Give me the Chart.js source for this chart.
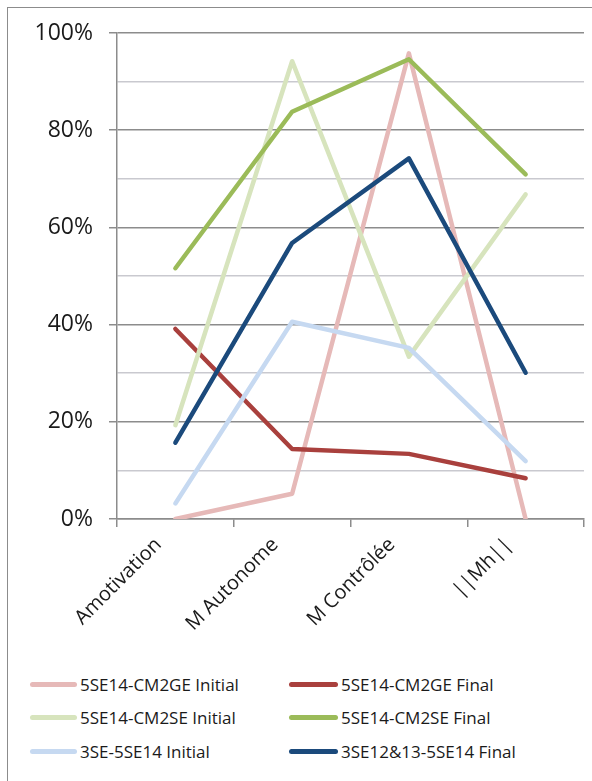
<!DOCTYPE html>
<html>
<head>
<meta charset="utf-8">
<script src="https://cdn.jsdelivr.net/npm/chart.js@4"></script>
<style>
  html, body { margin: 0; padding: 0; background: #fff; overflow: hidden; }
  body { width: 592px; height: 781px; position: relative; font-family: "Open Sans", sans-serif; }
  #frame { position: absolute; left: 7px; top: 7px; width: 640px; height: 820px;
           border-left: 1.5px solid #8c8c8c; border-top: 1.5px solid #8c8c8c; }
  #wrap { position: absolute; left: 0; top: 0; width: 592px; height: 660px; }
  #legend { position: absolute; left: 0; top: 667px; width: 592px; }
  .item { position: absolute; height: 34px; display: flex; align-items: center;
          font-size: 17px; color: #1a1a1a; white-space: nowrap; }
  .swatch { width: 47px; height: 5px; border-radius: 3px; margin-right: 3px; }
</style>
</head>
<body>
<div id="frame"></div>
<div id="wrap"><canvas id="chart"></canvas></div>
<div id="legend"></div>
<script>
// catégories et séries
const categories = ["Amotivation", "M Autonome", "M Contrôlée", "||Mh||"];
const seriesNames = [
  "5SE14-CM2GE Initial", "5SE14-CM2GE Final",
  "5SE14-CM2SE Initial", "5SE14-CM2SE Final",
  "3SE-5SE14 Initial", "3SE12&13-5SE14 Final",
];
const seriesColors = ["#E6B9B8", "#A9403D", "#D7E4BD", "#9BBB59", "#C6D9F1", "#1B4A7C"];

const cm2geInitial = [0, 5.2, 95.8, 0];
const cm2geFinal = [39.1, 14.4, 13.4, 8.4];
const cm2seInitial = [19.3, 94.2, 33.4, 66.8];
const cm2seFinal = [51.6, 83.8, 94.6, 70.9];
const se3Initial = [3.2, 40.6, 35.2, 11.9];
const se3Final = [15.7, 56.8, 74.2, 30.1];
const allSeries = [cm2geInitial, cm2geFinal, cm2seInitial, cm2seFinal, se3Initial, se3Final];

const yMax = 100;
const yStep = 10;

const datasets = allSeries.map((data, i) => ({
  label: seriesNames[i],
  data,
  borderColor: seriesColors[i],
  backgroundColor: seriesColors[i],
  borderWidth: 4.5,
  pointRadius: 0,
  tension: 0,
  fill: false,
  borderCapStyle: "round",
  borderJoinStyle: "round",
  order: allSeries.length - i, // Excel : la dernière série passe au-dessus
}));

new Chart(document.getElementById("chart"), {
  type: "line",
  data: { labels: categories, datasets },
  options: {
    responsive: true,
    maintainAspectRatio: false,
    animation: false,
    layout: { padding: { top: 33, right: 8, left: 0, bottom: 0 } },
    plugins: { legend: { display: false }, tooltip: { enabled: false } },
    scales: {
      x: {
        offset: true,
        grid: {
          offset: true,
          drawOnChartArea: false,
          tickLength: 8,
          color: "#8c8c8c",
          lineWidth: 1.5,
        },
        border: { color: "#8c8c8c", width: 1.5 },
        ticks: {
          minRotation: 45,
          maxRotation: 45,
          padding: 6,
          labelOffset: -17,
          color: "#1a1a1a",
          font: { family: "Open Sans", size: 20 },
        },
        afterFit: (s) => { s.height = 141; },
      },
      y: {
        min: 0,
        max: yMax,
        ticks: {
          stepSize: yStep,
          padding: 16,
          color: "#1a1a1a",
          font: { family: "Open Sans", size: 23 },
          callback: (v) => (v % 20 === 0 ? v + "%" : ""),
        },
        grid: {
          tickLength: 8,
          lineWidth: 1.5,
          color: (c) => (c.tick && c.tick.value % 20 === 0 ? "#8c8c8c" : "#c9c9cf"),
          tickColor: (c) => (c.tick && c.tick.value % 20 === 0 ? "#8c8c8c" : "rgba(0,0,0,0)"),
        },
        border: { color: "#8c8c8c", width: 1.5 },
        afterFit: (s) => { s.width = 117; },
      },
    },
  },
});

// légende en deux colonnes, comme dans Excel
const legend = document.getElementById("legend");
seriesNames.forEach((name, i) => {
  const item = document.createElement("div");
  item.className = "item";
  item.style.left = (i % 2 === 0 ? 30 : 289) + "px";
  item.style.top = Math.floor(i / 2) * 33.5 + "px";
  const sw = document.createElement("div");
  sw.className = "swatch";
  sw.style.background = seriesColors[i];
  sw.style.width = (i % 2 === 0 ? 47 : 49) + "px";
  const txt = document.createElement("span");
  txt.textContent = name;
  item.appendChild(sw);
  item.appendChild(txt);
  legend.appendChild(item);
});
</script>
</body>
</html>
